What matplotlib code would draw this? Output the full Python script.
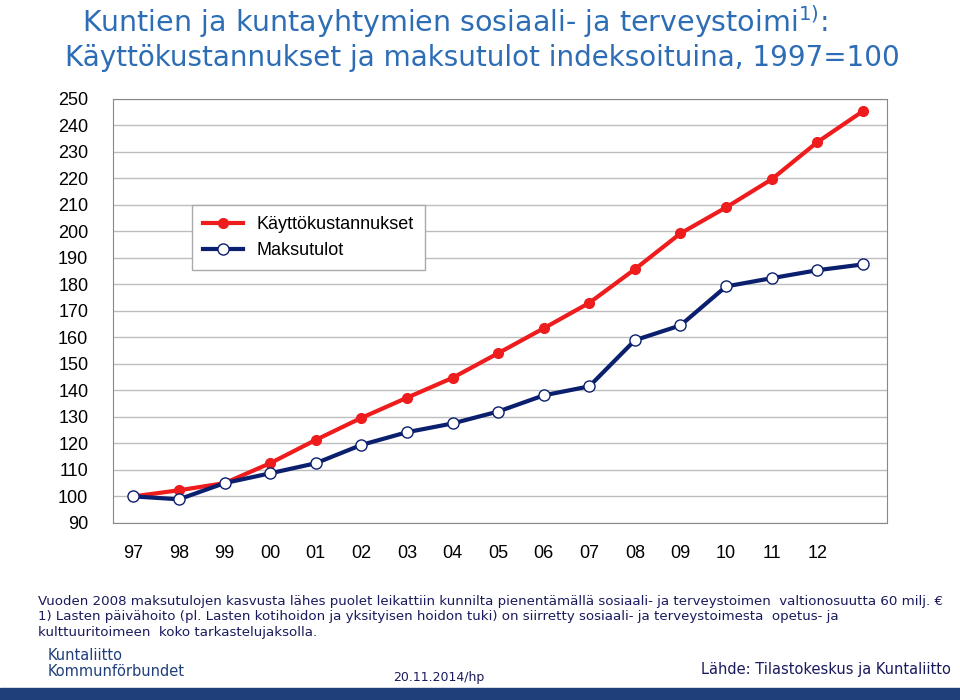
import matplotlib.pyplot as plt
import matplotlib.lines as mlines

years = ["97", "98", "99", "00", "01", "02", "03", "04", "05", "06", "07", "08", "09", "10", "11", "12", "13"]
tick_labels = years[:-1]
kayttokustannukset = [100, 102.3, 105, 112.5, 121.3, 129.6, 137.2, 144.7, 154, 163.4, 173, 185.7, 199.2, 209, 219.6, 233.6, 245.3]
maksutulot = [100, 98.9, 105, 108.7, 112.5, 119.4, 124.2, 127.5, 132, 138.1, 141.5, 158.9, 164.5, 179.2, 182.3, 185.3, 187.5]

title_col = "#2d6db5"
fig = plt.figure(figsize=(9.6, 7.0), dpi=100)
ax = fig.add_axes([0.118, 0.253, 0.806, 0.606])
x = list(range(len(years)))
ax.plot(x, kayttokustannukset, color="#ee1c1c", lw=3, marker="o", ms=7, mfc="#ee1c1c", mec="#ee1c1c", zorder=3)
ax.plot(x, maksutulot, color="#0a1f6e", lw=3, marker="o", ms=8, mfc="white", mec="#0a1f6e", zorder=4)

ax.set_xlim(-0.44, 16.53)
ax.set_ylim(90, 250)
ax.set_yticks(range(90, 251, 10))
ax.set_yticklabels([str(v) for v in range(90, 251, 10)], fontsize=13, fontname="Liberation Sans")
ax.set_xticks(x[:-1])
ax.set_xticklabels(tick_labels, fontsize=13, fontname="Liberation Sans")
ax.tick_params(axis="x", length=0, pad=16)
ax.tick_params(axis="y", length=0, pad=18)
ax.grid(axis="y", color="#bdbdbd", lw=1)
for s in ax.spines.values():
    s.set_color("#888888")

h1 = mlines.Line2D([], [], color="#ee1c1c", lw=3, marker="o", ms=7, label="Käyttökustannukset")
h2 = mlines.Line2D([], [], color="#0a1f6e", lw=3, marker="o", ms=8, mfc="white", label="Maksutulot")
ax.legend(handles=[h1, h2], loc="upper left", bbox_to_anchor=(0.09, 0.77), fancybox=False, framealpha=1,
          edgecolor="#aaaaaa", handlelength=2.2, borderpad=0.6,
          prop={"family": "Liberation Sans", "size": 13})

fig.text(0.085, 0.955, "Kuntien ja kuntayhtymien sosiaali- ja terveystoimi$^{1)}$:", fontsize=20.5, color=title_col, fontname="DejaVu Sans")
fig.text(0.068, 0.905, "Käyttökustannukset ja maksutulot indeksoituina, 1997=100", fontsize=20, color=title_col, fontname="DejaVu Sans")

foot = ("Vuoden 2008 maksutulojen kasvusta lähes puolet leikattiin kunnilta pienentämällä sosiaali- ja terveystoimen  valtionosuutta 60 milj. €\n"
        "1) Lasten päivähoito (pl. Lasten kotihoidon ja yksityisen hoidon tuki) on siirretty sosiaali- ja terveystoimesta  opetus- ja\n"
        "kulttuuritoimeen  koko tarkastelujaksolla.")
fig.text(0.04, 0.092, foot, fontsize=9.6, color="#1a1a5e", fontname="DejaVu Sans", linespacing=1.25)
fig.text(0.05, 0.035, "Kuntaliitto\nKommunförbundet", fontsize=10.5, color="#1f3f7a", fontname="DejaVu Sans", linespacing=1.0)
fig.text(0.41, 0.027, "20.11.2014/hp", fontsize=9, color="#1a1a5e")
fig.text(0.73, 0.037, "Lähde: Tilastokeskus ja Kuntaliitto", fontsize=10.5, color="#1a1a5e", fontname="DejaVu Sans")
fig.patches.append(plt.Rectangle((0, 0), 1, 0.017, transform=fig.transFigure, color="#1f3f7a"))

fig.savefig("out.png", dpi=100)
